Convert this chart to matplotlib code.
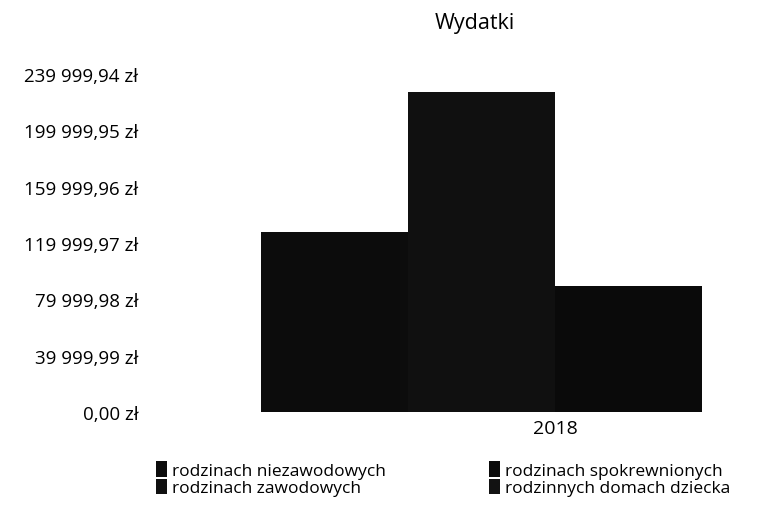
import numpy as np
import matplotlib.pyplot as plt

plt.rcParams['font.family'] = ['Open Sans', 'DejaVu Sans']

# dane
kategoria = ['2018']
serie = ['rodzinach niezawodowych', 'rodzinach zawodowych',
         'rodzinach spokrewnionych', 'rodzinnych domach dziecka']
wydatki = [127800, 227200, 89500, 0]
kolory = ['#0c0c0c', '#101010', '#0a0a0a', '#121212']
tick_wartosci = [0, 39999.99, 79999.98, 119999.97, 159999.96, 199999.95, 239999.94]
tick_opisy = ['0,00 zł', '39 999,99 zł', '79 999,98 zł', '119 999,97 zł',
              '159 999,96 zł', '199 999,95 zł', '239 999,94 zł']

fig = plt.figure(figsize=(7.65, 5.10), dpi=100)
# os wychodzi poza prawa krawedz jak w oryginale (przyciety obraz)
ax = fig.add_axes([150 / 765, 97 / 510, 615 / 765, 338 / 510])

szer = 1.0
offsety = (np.arange(len(serie)) - 1.5) * szer
for i, s in enumerate(serie):
    ax.bar(0 + offsety[i], wydatki[i], width=szer, color=kolory[i], label=s)

# piksele: srodek kategorii ~557, szerokosc slupka ~147 px
ax.set_xlim((150 - 555) / 147, (765 - 555) / 147)
ax.set_ylim(0, tick_wartosci[-1])
ax.set_xticks([0])
ax.set_xticklabels(kategoria, fontsize=14)
ax.set_yticks(tick_wartosci)
ax.set_yticklabels(tick_opisy, fontsize=13.5)
ax.tick_params(axis='x', length=0, pad=5)
ax.tick_params(axis='y', length=0, pad=8.5)
for sp in ax.spines.values():
    sp.set_visible(False)

fig.text(475 / 765, 1 - 23 / 510, 'Wydatki', ha='center', va='center', fontsize=15.5)

fig.legend(loc='upper left', bbox_to_anchor=(156 / 765, 1 - 462 / 510), ncol=2,
           frameon=False, fontsize=12.5, handlelength=0.65, handleheight=1.0,
           handletextpad=0.3, columnspacing=5.9, labelspacing=0.0,
           borderaxespad=0, borderpad=0)

fig.savefig('out.png', dpi=100)
